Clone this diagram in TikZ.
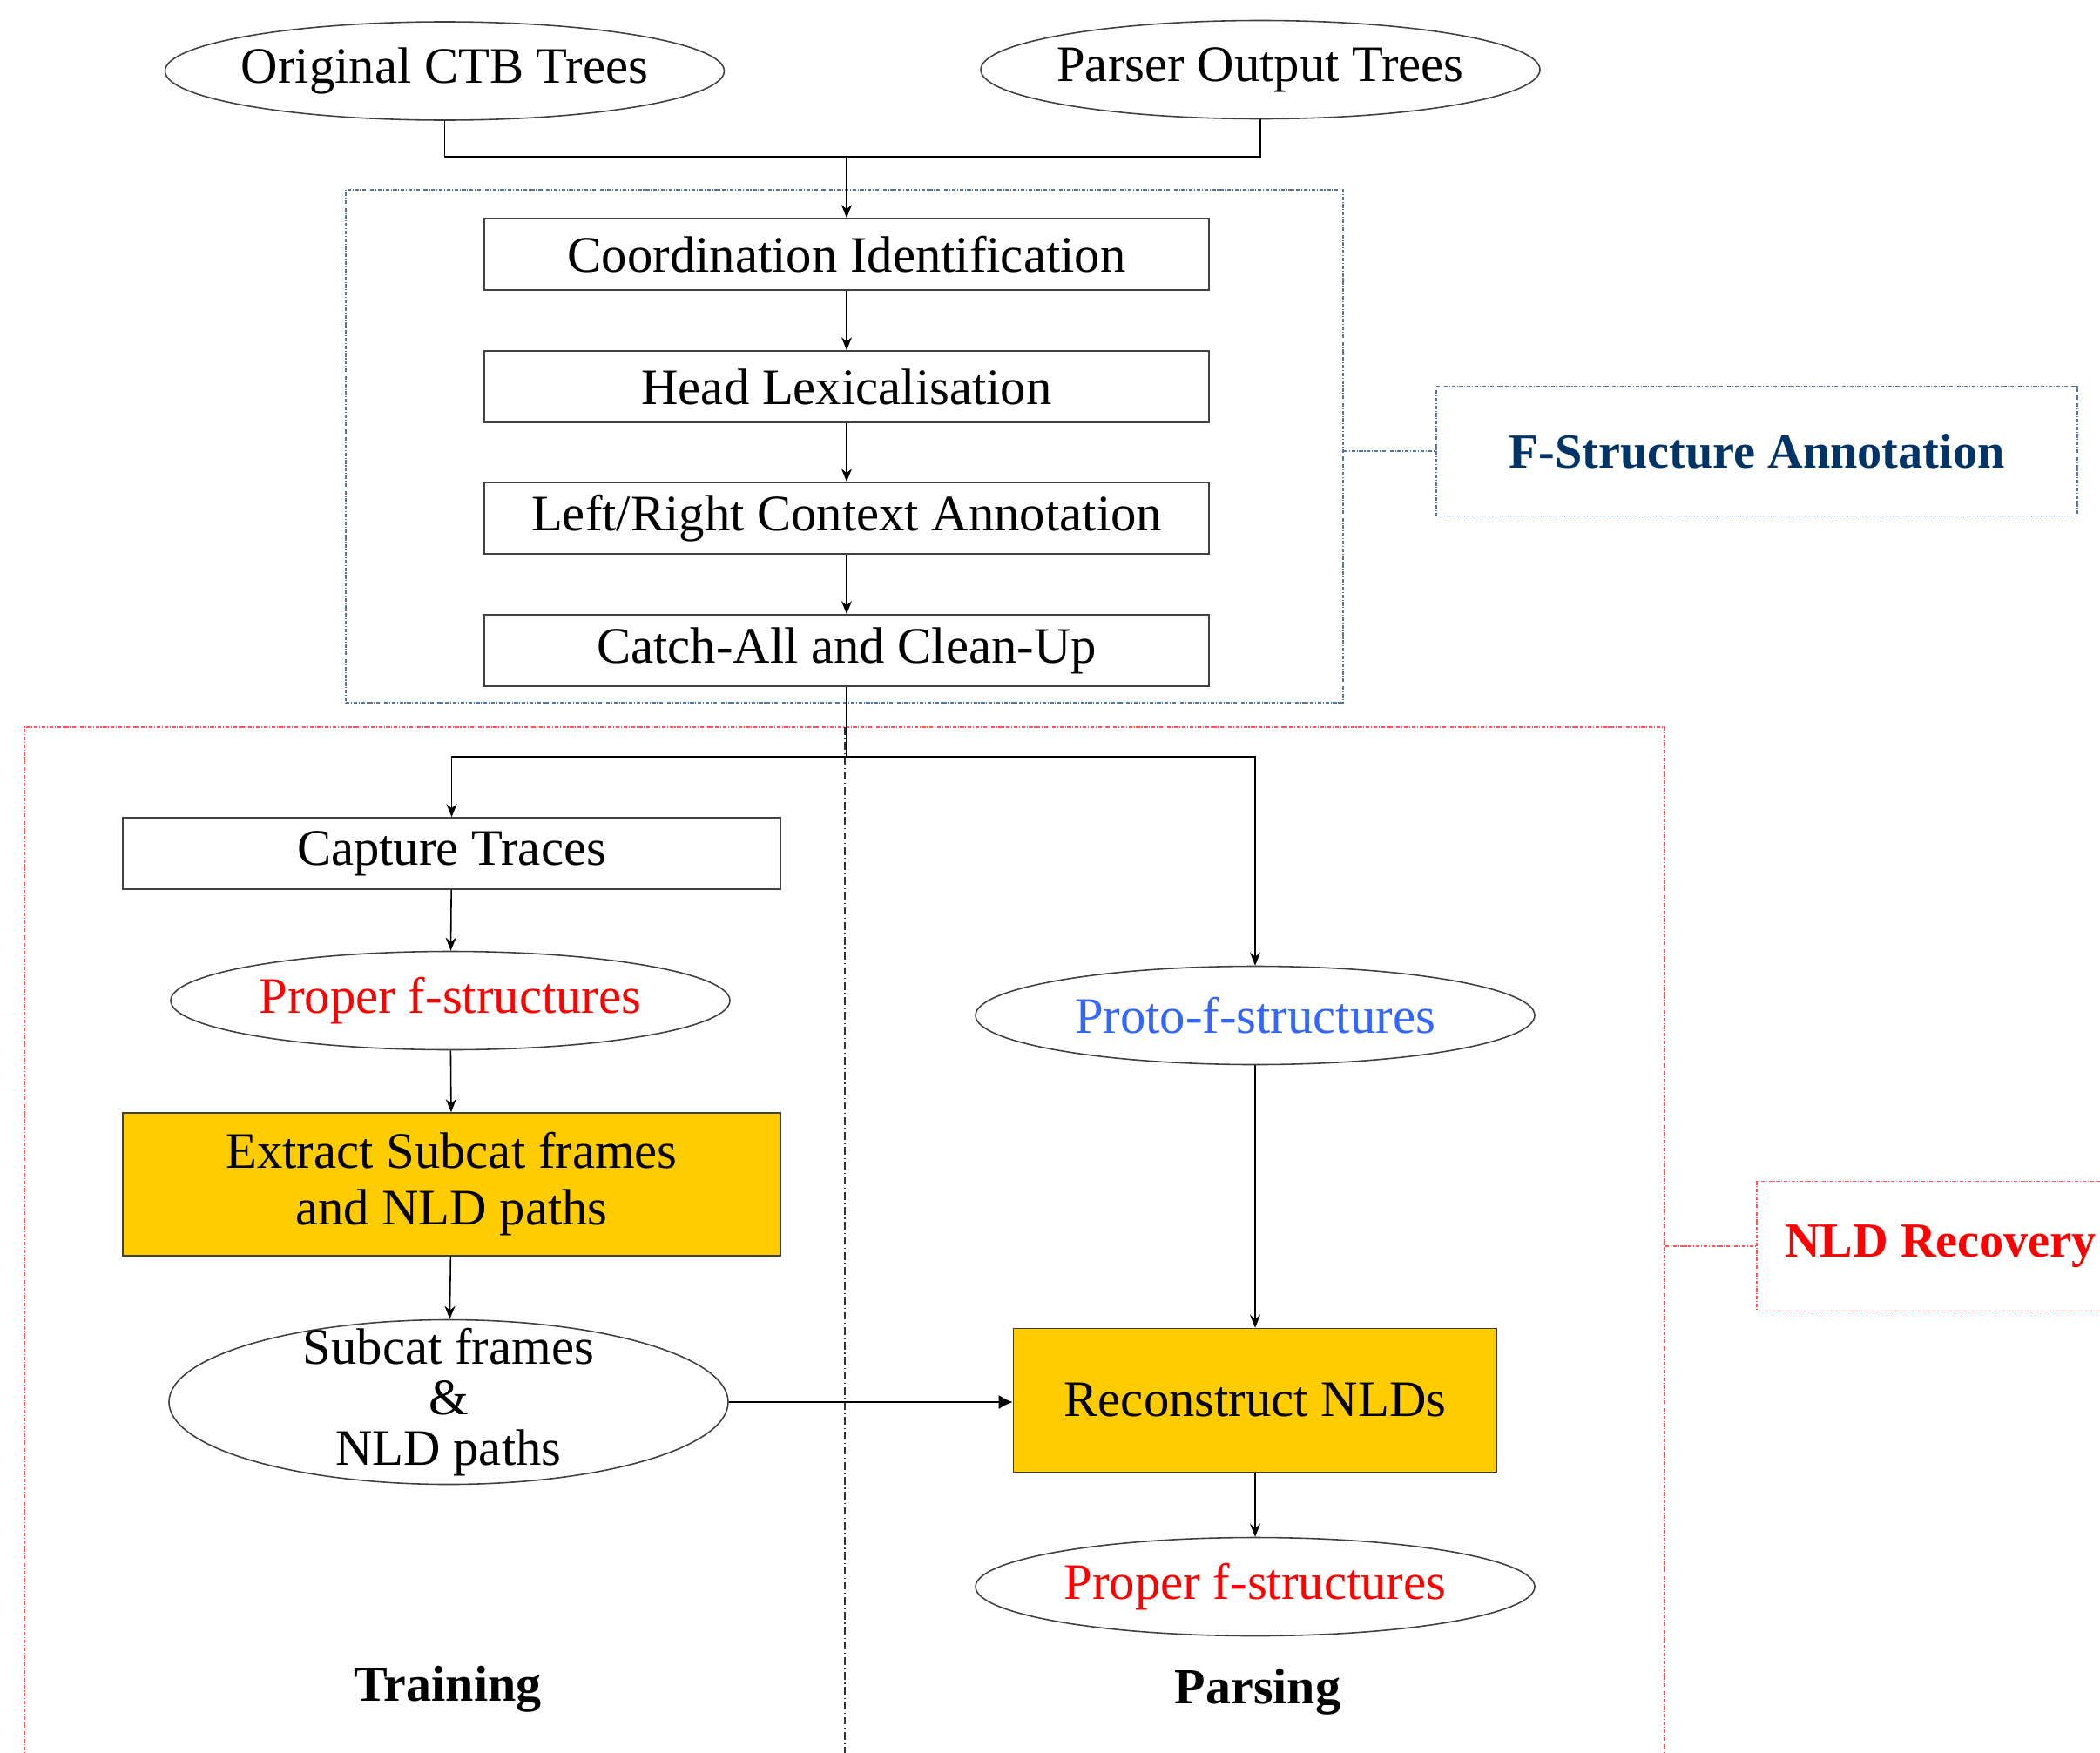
\documentclass[tikz,border=0pt]{standalone}
\usepackage{fontspec}
\setmainfont{Liberation Serif}
\usepackage{color}
\definecolor{mygold}{RGB}{255,204,0}
\definecolor{mynavy}{RGB}{0,51,102}
\definecolor{myblue}{RGB}{51,102,255}
\definecolor{myred}{RGB}{255,0,0}
\definecolor{mysteel}{RGB}{84,116,164}
\definecolor{mypink}{RGB}{255,85,85}
\usepackage{tikz}
\usetikzlibrary{arrows.meta,shapes.geometric,positioning,calc}
\tikzstyle{stage}=[draw=black!75,rectangle,minimum width=8.32cm,minimum height=0.82cm,inner sep=0pt,font=\fontsize{16.7}{18.5}\selectfont]
\tikzstyle{goldstage}=[stage,fill=mygold,align=center,minimum width=7.55cm,minimum height=1.64cm]
\tikzstyle{treebag}=[draw=black!75,ellipse,minimum width=6.42cm,minimum height=1.13cm,inner sep=0pt,inner xsep=-0.12cm,align=center,font=\fontsize{16.7}{18.5}\selectfont]
\tikzstyle{groupframe}=[rectangle,dash pattern=on 1.2pt off 0.5pt on 0.3pt off 0.5pt,line width=0.5pt]
\tikzstyle{grouplabel}=[groupframe,minimum height=1.49cm,font=\fontsize{16}{19}\selectfont\bfseries]

\begin{document}
\begin{tikzpicture}[y=-1cm,line width=0.45pt,>={Stealth[length=0.15cm,width=0.12cm]}]
\useasboundingbox (0,0) rectangle (24.11,20.12);
\clip (0,0) rectangle (24.11,20.12);
% groups
\draw (9.695, 5.125) node [groupframe, draw=mysteel, minimum width=11.45cm, minimum height=5.89cm] (fsgroup) {};
\draw (9.695, 14.375) node [groupframe, draw=mypink, minimum width=18.83cm, minimum height=12.05cm] (nldgroup) {};
\draw (20.17, 5.18) node [grouplabel, draw=mysteel, text=mynavy, minimum width=7.36cm] (fslabel) {F-Structure Annotation};
\draw (22.28, 14.31) node [grouplabel, draw=mypink, text=myred, minimum width=4.22cm] (nldlabel) {NLD Recovery};
\draw[groupframe, draw=mysteel] (fsgroup.east |- fslabel.west) -- (fslabel.west);
\draw[groupframe, draw=mypink] (nldgroup.east |- nldlabel.west) -- (nldlabel.west);
\draw[dash pattern=on 2.5pt off 1pt on 0.4pt off 1pt, line width=0.3pt, black!80] (9.70, 8.35) coordinate (sepTop) -- (9.70, 20.4) coordinate (sepEnd);
% input trees and annotation
\draw (5.105, 0.815) node [treebag] (ctb) {Original CTB Trees};
\draw (14.47, 0.80) node [treebag] (parsed) {Parser Output Trees};
\draw (9.72, 2.92) node [stage] (coord) {Coordination Identification};
\draw (9.72, 4.44) node [stage] (head) {Head Lexicalisation};
\draw (9.72, 5.95) node [stage] (lrctx) {Left/Right Context Annotation};
\draw (9.72, 7.47) node [stage] (catch) {Catch-All and Clean-Up};
\coordinate (join) at (9.72, 1.80);
\draw (ctb.south) |- (join) -| (parsed.south);
\draw[->] (join) -- (coord);
\draw[->] (coord) -- (head);
\draw[->] (head) -- (lrctx);
\draw[->] (lrctx) -- (catch);
% training
\draw (5.185, 9.80) node [stage, minimum width=7.55cm] (capture) {Capture Traces};
\draw (5.17, 11.49) node [treebag, text=myred] (proper1) {Proper f-structures};
\draw (5.185, 13.60) node [goldstage] (extract) {Extract Subcat frames\\and NLD paths};
\draw (5.15, 16.10) node [treebag, minimum height=1.89cm, inner ysep=-0.25cm, font=\fontsize{16.7}{16.5}\selectfont] (subcat) {Subcat frames\\\&\\NLD paths};
% parsing
\draw (14.41, 11.66) node [treebag, text=myblue] (proto) {Proto-f-structures};
\draw (14.41, 16.08) node [goldstage, minimum width=5.55cm, minimum height=1.65cm] (recon) {Reconstruct NLDs};
\draw (14.41, 18.22) node [treebag, text=myred] (proper2) {Proper f-structures};
\coordinate (fork) at (9.72, 8.69);
\draw (catch) -- (fork);
\draw[->] (fork) -| (capture);
\draw[->] (fork) -| (proto);
\draw[->] (capture) -- (proper1);
\draw[->] (proper1) -- (extract);
\draw[->] (extract) -- (subcat);
\draw[->] (proto) -- (recon);
\draw[->] (recon) -- (proper2);
\draw[-{Latex[length=0.16cm,width=0.16cm]}] (subcat.east) -- (subcat.east -| recon.west);
\draw (5.14, 19.40) node [font=\fontsize{16.5}{19}\selectfont\bfseries] (train) {Training};
\draw (14.44, 19.43) node [font=\fontsize{16.5}{19}\selectfont\bfseries] (parse) {Parsing};
\end{tikzpicture}
\end{document}
